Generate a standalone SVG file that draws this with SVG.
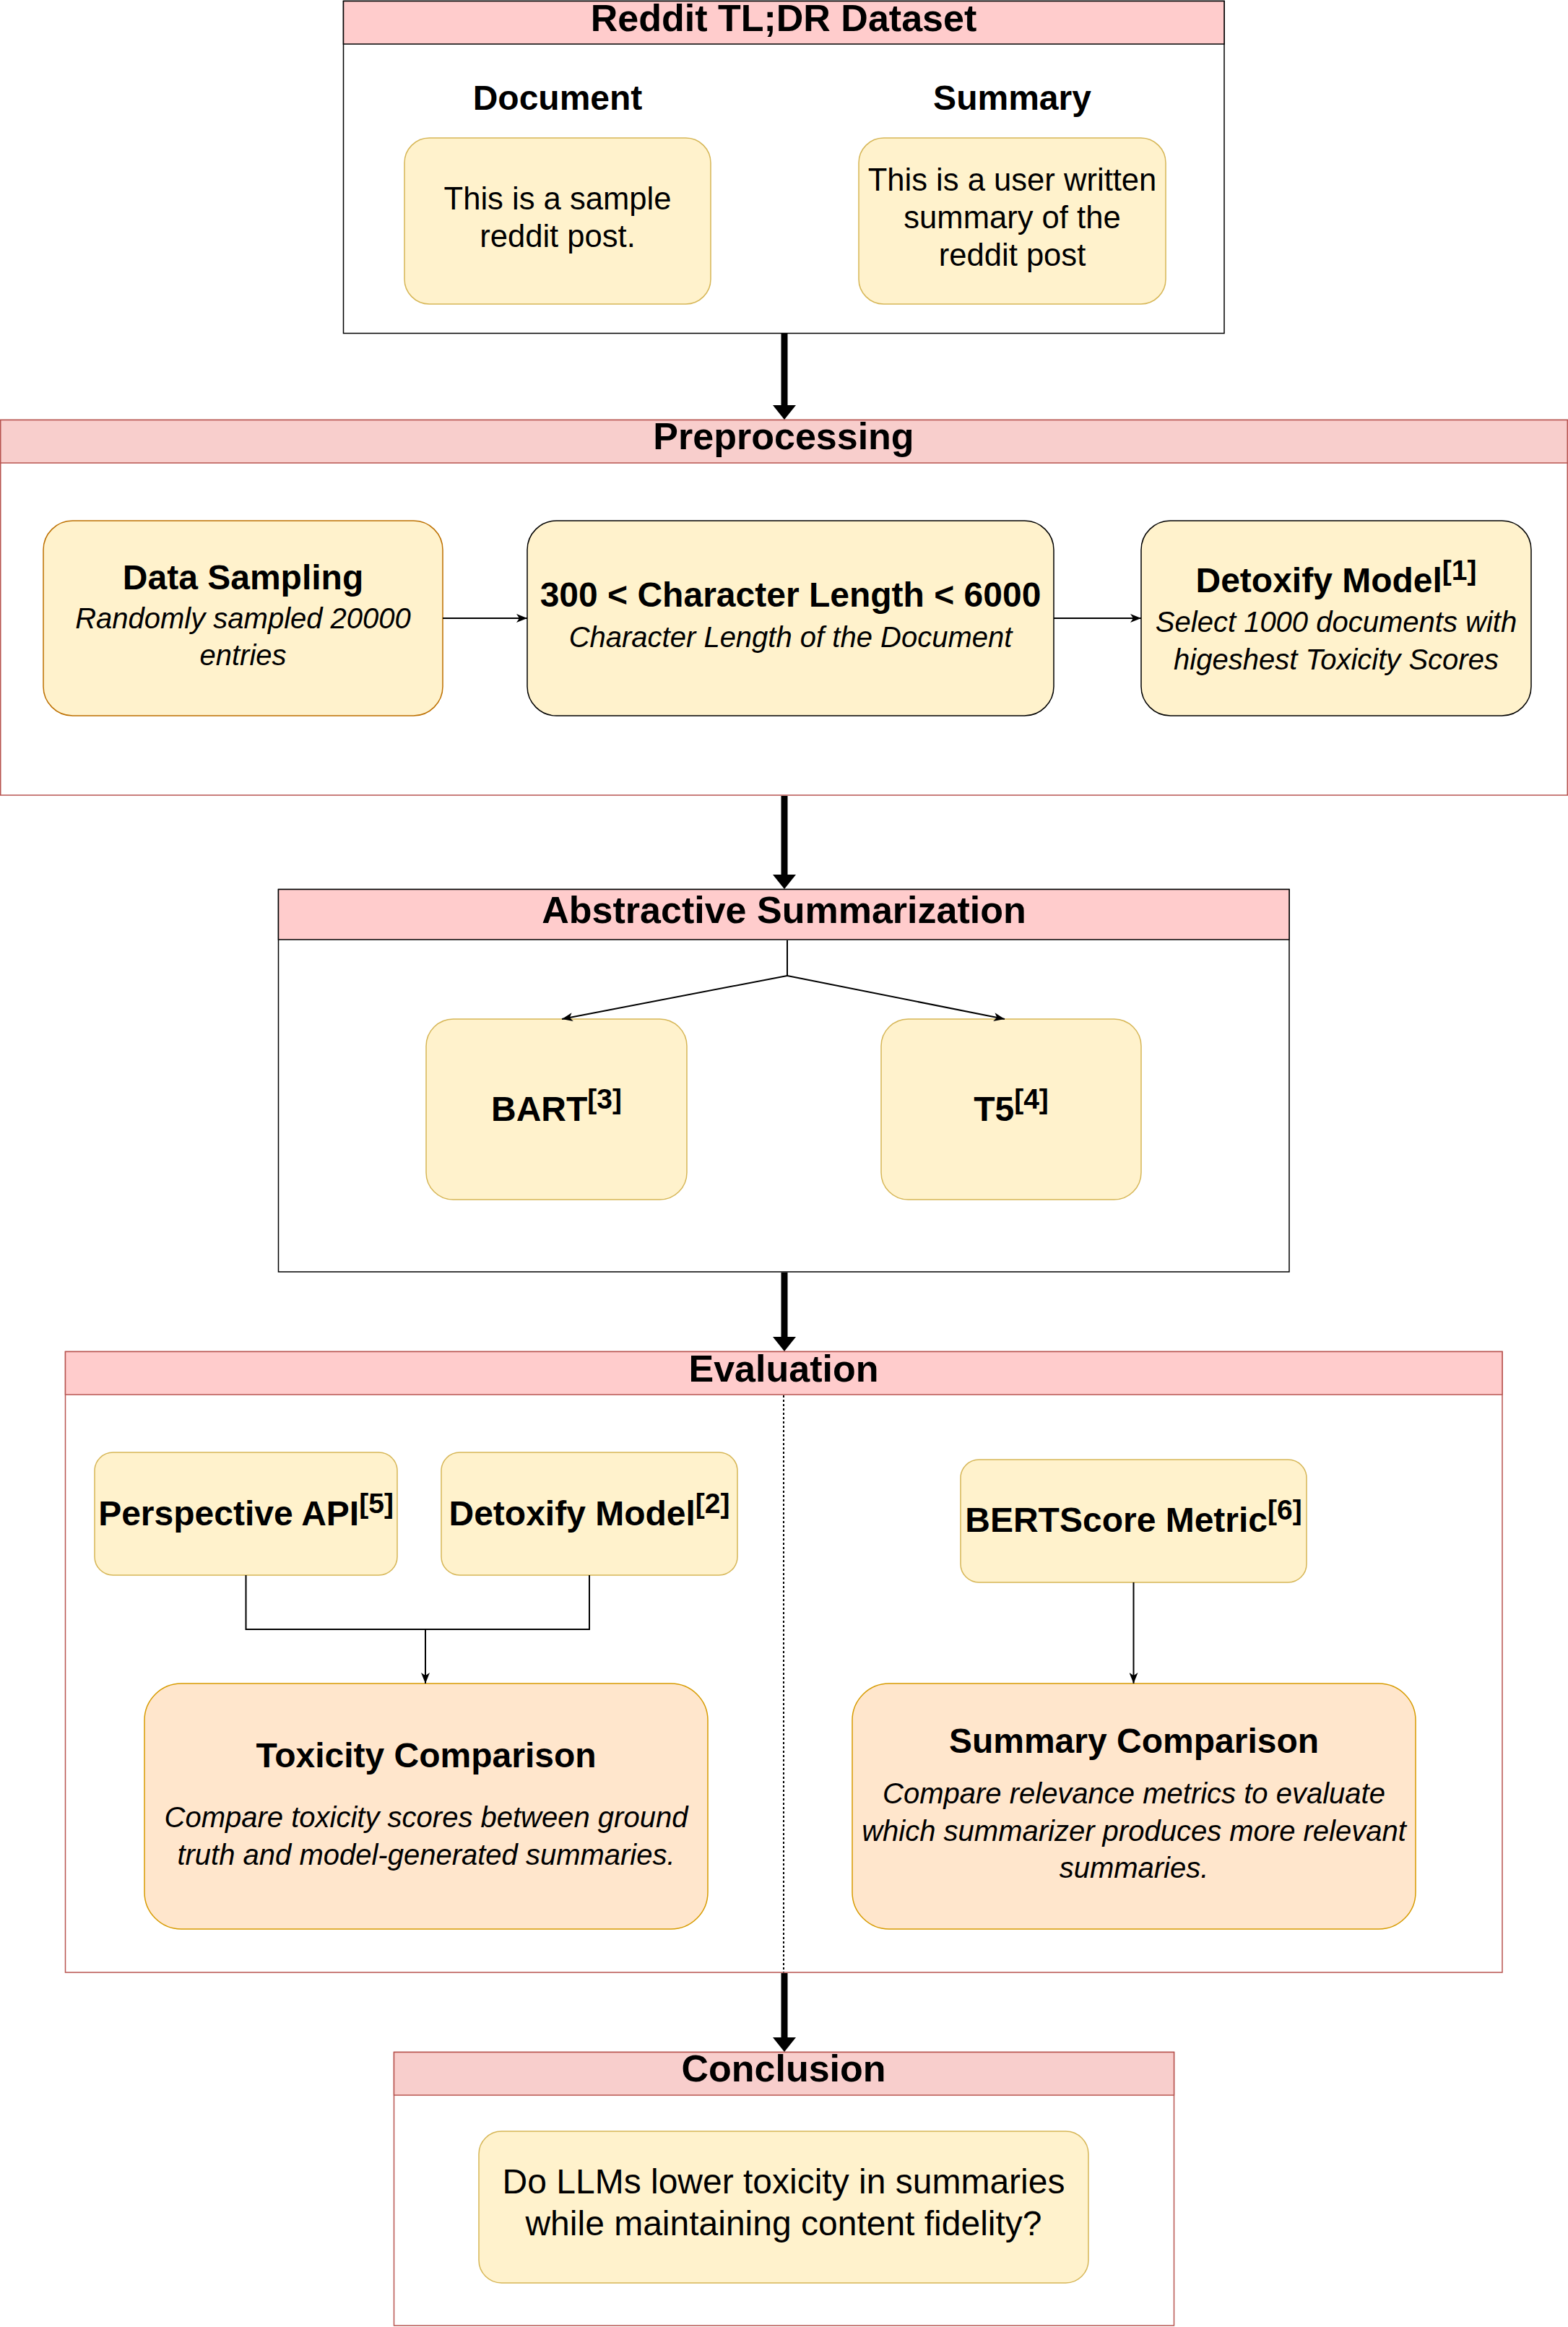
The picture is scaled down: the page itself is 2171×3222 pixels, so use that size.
<svg xmlns="http://www.w3.org/2000/svg" width="2171" height="3222" viewBox="0 0 2171 3222">
<style>
text{font-family:"Liberation Sans",Arial,Helvetica,sans-serif;fill:#000;text-anchor:middle}
.hdr{font-size:52px;font-weight:bold}
.b48{font-size:48px;font-weight:bold}
.r44{font-size:43.6px}
.r48{font-size:48px}
.it{font-size:40px;font-style:italic}
.sup{font-size:39px}
.cont{fill:#fff;stroke-width:1.5}
.redc{stroke:#b85450}
.blkc{stroke:#000}
.hpink{fill:#f8cecc}
.hlight{fill:#ffcccc}
.yel{fill:#fff2cc;stroke:#d6b656;stroke-width:1.5}
.yelo{fill:#fff2cc;stroke:#bd7000;stroke-width:1.5}
.yelb{fill:#fff2cc;stroke:#000;stroke-width:1.5}
.org{fill:#ffe6cc;stroke:#d79b00;stroke-width:1.5}
.thick{stroke:#000;stroke-width:9;fill:none}
.thin{stroke:#000;stroke-width:2;fill:none}
.dot{stroke:#000;stroke-width:2;stroke-dasharray:3 3;fill:none}
</style>
<defs>
<marker id="bigHead" markerUnits="userSpaceOnUse" viewBox="0 0 20 32" refX="0" refY="16" markerWidth="20" markerHeight="32" orient="auto">
<path d="M0,0 L20,16 L0,32 Z" fill="#000"/>
</marker>
<marker id="head" markerUnits="userSpaceOnUse" viewBox="0 0 15 12" refX="15" refY="6" markerWidth="15" markerHeight="12" orient="auto">
<path d="M0,0 L15,6 L0,12 L4,6 Z" fill="#000"/>
</marker>
</defs>

<g id="reddit-dataset">
<rect class="cont blkc" x="475.5" y="1.5" width="1219.5" height="460"/>
<rect class="hlight" x="475.5" y="1.5" width="1219.5" height="59.5" stroke="#000" stroke-width="1.5"/>
<text class="hdr" x="1085" y="43">Reddit TL;DR Dataset</text>
<text class="b48" x="772" y="152">Document</text>
<text class="b48" x="1401.5" y="152">Summary</text>
</g>
<g id="document">
<rect class="yel" x="560" y="191" width="424" height="230" rx="34.5"/>
<text class="r44" x="772" y="290">This is a sample</text>
<text class="r44" x="772" y="342">reddit post.</text>
</g>
<g id="summary">
<rect class="yel" x="1189" y="191" width="425" height="230" rx="34.5"/>
<text class="r44" x="1401.5" y="264">This is a user written</text>
<text class="r44" x="1401.5" y="316">summary of the</text>
<text class="r44" x="1401.5" y="368">reddit post</text>
</g>

<g id="preprocessing">
<rect class="cont redc" x="0.75" y="581.5" width="2169.5" height="519.5"/>
<rect class="hpink" x="0.75" y="581.5" width="2169.5" height="59.5" stroke="#b85450" stroke-width="1.5"/>
<text class="hdr" x="1085" y="622">Preprocessing</text>
</g>
<g id="data-sampling">
<rect class="yelo" x="60" y="721" width="553" height="270" rx="40.5"/>
<text class="b48" x="336.5" y="816">Data Sampling</text>
<text class="it" x="336.5" y="870">Randomly sampled 20000</text>
<text class="it" x="336.5" y="921">entries</text>
</g>
<g id="char-length">
<rect class="yelb" x="730" y="721" width="729" height="270" rx="40.5"/>
<text class="b48" x="1094.5" y="840">300 &lt; Character Length &lt; 6000</text>
<text class="it" x="1094.5" y="896">Character Length of the Document</text>
</g>
<g id="detoxify-1">
<rect class="yelb" x="1580" y="721" width="540" height="270" rx="40.5"/>
<text class="b48" x="1850" y="820">Detoxify Model<tspan class="sup" dy="-17">[1]</tspan></text>
<text class="it" x="1850" y="875">Select 1000 documents with</text>
<text class="it" x="1850" y="927">higeshest Toxicity Scores</text>
</g>

<g id="abstractive-summarization">
<rect class="cont blkc" x="385.5" y="1231.5" width="1399.5" height="529.5"/>
<rect class="hlight" x="385.5" y="1231.5" width="1399.5" height="69.5" stroke="#000" stroke-width="1.5"/>
<text class="hdr" x="1085.5" y="1278">Abstractive Summarization</text>
</g>
<g id="bart">
<rect class="yel" x="590" y="1411" width="361" height="250" rx="37.5"/>
<text class="b48" x="770.5" y="1552">BART<tspan class="sup" dy="-17">[3]</tspan></text>
</g>
<g id="t5">
<rect class="yel" x="1220" y="1411" width="360" height="250" rx="37.5"/>
<text class="b48" x="1400" y="1552">T5<tspan class="sup" dy="-17">[4]</tspan></text>
</g>

<g id="evaluation">
<rect class="cont redc" x="90.5" y="1871.5" width="1989.5" height="859.5"/>
<rect class="hlight" x="90.5" y="1871.5" width="1989.5" height="59.5" stroke="#b85450" stroke-width="1.5"/>
<text class="hdr" x="1085" y="1913">Evaluation</text>
</g>
<g id="perspective-api">
<rect class="yel" x="131" y="2011" width="419" height="170" rx="25.5"/>
<text class="b48" x="340.5" y="2112">Perspective API<tspan class="sup" dy="-17">[5]</tspan></text>
</g>
<g id="detoxify-2">
<rect class="yel" x="611" y="2011" width="410" height="170" rx="25.5"/>
<text class="b48" x="816" y="2112">Detoxify Model<tspan class="sup" dy="-17">[2]</tspan></text>
</g>
<g id="bertscore">
<rect class="yel" x="1330" y="2021" width="479" height="170" rx="25.5"/>
<text class="b48" x="1569.5" y="2121">BERTScore Metric<tspan class="sup" dy="-17">[6]</tspan></text>
</g>
<g id="toxicity-comparison">
<rect class="org" x="200" y="2331" width="780" height="340" rx="51"/>
<text class="b48" x="590" y="2447">Toxicity Comparison</text>
<text class="it" x="590" y="2530">Compare toxicity scores between ground</text>
<text class="it" x="590" y="2582">truth and model-generated summaries.</text>
</g>
<g id="summary-comparison">
<rect class="org" x="1180" y="2331" width="780" height="340" rx="51"/>
<text class="b48" x="1570" y="2427">Summary Comparison</text>
<text class="it" x="1570" y="2497">Compare relevance metrics to evaluate</text>
<text class="it" x="1570" y="2549">which summarizer produces more relevant</text>
<text class="it" x="1570" y="2600">summaries.</text>
</g>

<g id="conclusion">
<rect class="cont redc" x="545.5" y="2841.5" width="1080" height="378.5"/>
<rect class="hpink" x="545.5" y="2841.5" width="1080" height="59.5" stroke="#b85450" stroke-width="1.5"/>
<text class="hdr" x="1085" y="2882">Conclusion</text>
</g>
<g id="conclusion-question">
<rect class="yel" x="663" y="2951" width="844" height="210" rx="31.5"/>
<text class="r48" x="1085" y="3037">Do LLMs lower toxicity in summaries</text>
<text class="r48" x="1085" y="3095">while maintaining content fidelity?</text>
</g>

<g id="connectors">
<line class="thick" x1="1086" y1="462" x2="1086" y2="561" marker-end="url(#bigHead)"/>
<line class="thick" x1="1086" y1="1102" x2="1086" y2="1211" marker-end="url(#bigHead)"/>
<line class="thick" x1="1086" y1="1762" x2="1086" y2="1851" marker-end="url(#bigHead)"/>
<line class="thick" x1="1086" y1="2732" x2="1086" y2="2821" marker-end="url(#bigHead)"/>
<line class="thin" x1="613" y1="856" x2="730" y2="856" marker-end="url(#head)"/>
<line class="thin" x1="1459" y1="856" x2="1580" y2="856" marker-end="url(#head)"/>
<polyline class="thin" points="1090,1302 1090,1351"/>
<line class="thin" x1="1090" y1="1351" x2="778" y2="1411" marker-end="url(#head)"/>
<line class="thin" x1="1090" y1="1351" x2="1391" y2="1411" marker-end="url(#head)"/>
<polyline class="thin" points="340.5,2181 340.5,2256 816,2256 816,2181"/>
<line class="thin" x1="589" y1="2256" x2="589" y2="2331" marker-end="url(#head)"/>
<line class="thin" x1="1569.5" y1="2191" x2="1569.5" y2="2331" marker-end="url(#head)"/>
<line class="dot" x1="1085" y1="1932" x2="1085" y2="2731"/>
</g>
</svg>
